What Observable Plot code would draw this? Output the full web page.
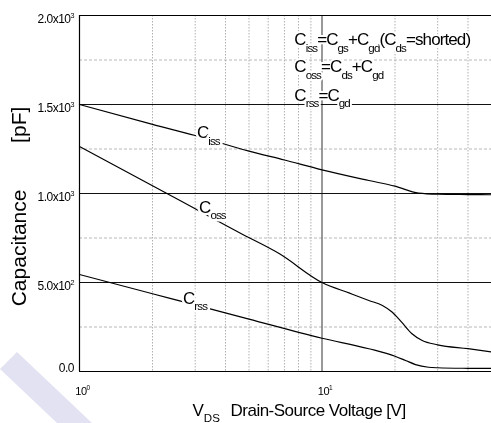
<!DOCTYPE html>
<html><head><meta charset="utf-8">
<script src="https://cdn.jsdelivr.net/npm/d3@7"></script>
<script src="https://cdn.jsdelivr.net/npm/@observablehq/plot@0.6"></script>
<style>
body{margin:0;background:#fff;}
#wrap{position:relative;width:491px;height:423px;}
#wm{position:absolute;left:0;top:0;pointer-events:none;mix-blend-mode:multiply;}
</style></head><body><div id="wrap"></div>
<script>
// ---- data ----
const xGridMinor = [2,3,4,5,6,7,8,9,20,30,40];
const xGridMajor = [10];
const yGridMajor = [500,1000,1500];
const yGridMinor = [250,750,1250,1750];
const yTicks = [500,1000,1500,2000];
const yTickLabels = ["5.0x10^{2}","1.0x10^{3}","1.5x10^{3}","2.0x10^{3}"];
const yZeroLabel = "0.0";
const xTicks = [1,10];
const xTickLabels = ["10^{0}","10^{1}"];

const vIss = [1,2,3,5,7,10,15.6,20,25,30,40,50];
const cIss = [1500,1388,1326,1238,1188,1133,1073,1041,1002,996,994,993];
const vOss = [1,2,3,4.57,6.68,10,13,15.6,17.75,19.5,21.3,23.5,25.9,30,40,50];
const cOss = [1264,1044,914,779,661,500,440,399,371,333,277,212,174,150,128,110];
const vRss = [1,2,3,5,10,15.6,20,22.1,24.3,27.5,30,40,50];
const cRss = [545,437,374,294,187,128,86,62,39,24,21,18,17];

const curveLabels = ["C_{iss}","C_{oss}","C_{rss}"];
const curveLabelV = [3.05,3.11,2.67];
const curveLabelC = [1309,893,382];

const legendLines = ["C_{iss}=C_{gs}+C_{gd}(C_{ds}=shorted)","C_{oss}=C_{ds}+C_{gd}","C_{rss}=C_{gd}"];
const legendV = [7.69,7.69,7.69];
const legendC = [1832,1680,1522];

const yTitle = "Capacitance\u00a0\u00a0\u00a0\u00a0\u00a0\u00a0\u00a0\u00a0[pF]";
const xTitleSym = "V_{DS}";
const xTitle = "Drain-Source Voltage [V]";

// ---- build ----
const rows = [];
vIss.forEach((v,i)=>rows.push({s:"iss",v,c:cIss[i]}));
vOss.forEach((v,i)=>rows.push({s:"oss",v,c:cOss[i]}));
vRss.forEach((v,i)=>rows.push({s:"rss",v,c:cRss[i]}));
const labels = curveLabels.map((t,i)=>({t,v:curveLabelV[i],c:curveLabelC[i]}));
const legend = legendLines.map((t,i)=>({t,v:legendV[i],c:legendC[i]}));

const plot = Plot.plot({
  width: 491, height: 423,
  marginLeft: 79, marginTop: 15, marginRight: 0, marginBottom: 52,
  style: {fontFamily: "'Liberation Sans', Arial, sans-serif", background: "transparent", color: "#000"},
  x: {type: "log", domain: [1, 50], axis: null},
  y: {domain: [0, 2000], axis: null},
  marks: [
    Plot.ruleX(xGridMinor, {stroke: "#b0b0b0", strokeDasharray: "1.5,1.5", strokeWidth: 1}),
    Plot.ruleY(yGridMinor, {stroke: "#b8b8b8", strokeDasharray: "3,2", strokeWidth: 1}),
    Plot.ruleX(xGridMajor, {stroke: "#555", strokeWidth: 1.2}),
    Plot.ruleY(yGridMajor, {stroke: "#111", strokeWidth: 1.1}),
    Plot.ruleY([2000], {stroke: "#000", strokeWidth: 1.2}),
    Plot.ruleY([0], {stroke: "#000", strokeWidth: 1.2}),
    Plot.ruleX([1], {stroke: "#000", strokeWidth: 1.2}),
    Plot.line(rows, {x: "v", y: "c", z: "s", stroke: "#000", strokeWidth: 1.2, curve: "monotone-x"}),
    Plot.text(labels, {x: "v", y: "c", text: "t", textAnchor: "start", lineAnchor: "bottom", fontSize: 17,
      fill: "#000", stroke: "white", strokeWidth: 5, paintOrder: "stroke"}),
    Plot.text(legend, {x: "v", y: "c", text: "t", textAnchor: "start", lineAnchor: "bottom", fontSize: 17,
      fill: "#000", stroke: "white", strokeWidth: 4, paintOrder: "stroke"}),
    Plot.text(yTicks, {y: d=>d, text: (d,i)=>yTickLabels[i], frameAnchor: "left", textAnchor: "end", lineAnchor: "bottom",
      dx: -5.5, dy: 7.7, fontSize: 12, fill: "#000"}),
    Plot.text([0], {y: d=>d, text: ()=>yZeroLabel, frameAnchor: "left", textAnchor: "end", lineAnchor: "bottom",
      dx: -5.5, dy: 0.7, fontSize: 12, fill: "#000"}),
    Plot.text(xTicks, {x: d=>d, text: (d,i)=>xTickLabels[i], frameAnchor: "bottom", textAnchor: "middle", lineAnchor: "bottom",
      dx: 3, dy: 23, fontSize: 11, fill: "#000"}),
    Plot.text([yTitle], {frameAnchor: "left", rotate: -90, textAnchor: "middle", lineAnchor: "bottom",
      dx: -54, dy: 13, fontSize: 21, fill: "#000"}),
    Plot.text([xTitleSym], {frameAnchor: "bottom-left", textAnchor: "start", lineAnchor: "bottom",
      dx: 113, dy: 44, fontSize: 17, fill: "#000"}),
    Plot.text([xTitle], {frameAnchor: "bottom-left", textAnchor: "start", lineAnchor: "bottom",
      dx: 151, dy: 44, fontSize: 17, fill: "#000"})
  ]
});
document.getElementById("wrap").appendChild(plot);

// condensed look of the original lettering
const spacing = new Map();
yTickLabels.concat([yZeroLabel], xTickLabels).forEach(t => spacing.set(t, "-0.5px"));
legendLines.concat(curveLabels).forEach(t => spacing.set(t, "-0.9px"));
spacing.set(xTitle, "-0.5px");
plot.querySelectorAll("text").forEach(t => {
  const ls = spacing.get(t.textContent);
  if (ls) t.style.letterSpacing = ls;
});

function richify(root) {
  root.querySelectorAll("text").forEach(t => {
    const s = t.textContent;
    if (!/[_^]\{/.test(s)) return;
    const fs = parseFloat(getComputedStyle(t).fontSize);
    while (t.firstChild) t.removeChild(t.firstChild);
    const re = /([_^])\{([^}]*)\}/g;
    let last = 0, off = 0, m;
    const add = (txt, size, shift) => {
      if (!txt) return;
      const ts = document.createElementNS("http://www.w3.org/2000/svg", "tspan");
      const d = shift - off;
      if (d) ts.setAttribute("dy", d.toFixed(2));
      if (size) ts.setAttribute("font-size", size.toFixed(2));
      off = shift;
      ts.textContent = txt;
      t.appendChild(ts);
    };
    while ((m = re.exec(s))) {
      add(s.slice(last, m.index), null, 0);
      if (m[1] === "_") add(m[2], fs * 0.68, fs * 0.4);
      else add(m[2], fs * 0.6, -fs * 0.45);
      last = re.lastIndex;
    }
    add(s.slice(last), null, 0);
  });
}
richify(plot);

// faint diagonal watermark band in the lower-left corner
const wm = d3.select("#wrap").append("svg").attr("id", "wm").attr("width", 491).attr("height", 423);
wm.append("polygon").attr("points", "17,352 92,423 57,423 0,369").attr("fill", "#e2e2f3");
</script></body></html>
